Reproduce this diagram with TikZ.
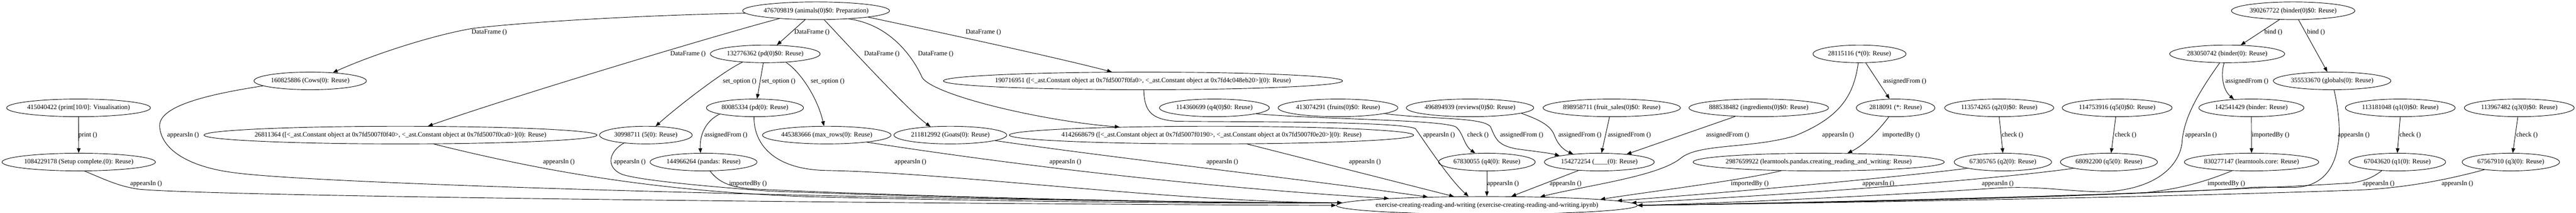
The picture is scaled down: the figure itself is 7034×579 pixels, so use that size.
\documentclass[tikz,border=0pt]{standalone}
\usepackage{fontspec}
\setmainfont{Liberation Serif}
\usetikzlibrary{shapes.geometric,arrows.meta}
\begin{document}
\begin{tikzpicture}[x=1pt,y=-1pt,
  nd/.style={ellipse, draw, line width=1.3pt, inner sep=0pt, minimum height=48pt, font=\fontsize{18}{18}\selectfont},
  lb/.style={inner sep=0pt, font=\fontsize{18}{18}\selectfont},
  e/.style={line width=1.3pt, -{Triangle[length=13pt,width=10pt]}}]
\useasboundingbox (0,0) rectangle (7034,579);
% ---------- nodes ----------
\node[nd, minimum width=401pt] (root) at (2228.5,29.3) {\makebox[0pt]{476709819 (animals(0)\$0: Preparation)}};
\node[nd, minimum width=337pt] (n390) at (6261.5,29.3) {\makebox[0pt]{390267722 (binder(0)\$0: Reuse)}};
\node[nd, minimum width=300pt] (n132) at (2089.5,146.7) {\makebox[0pt]{132776362 (pd(0)\$0: Reuse)}};
\node[nd, minimum width=254pt] (n281) at (5077.5,146.7) {\makebox[0pt]{28115116 (*(0): Reuse)}};
\node[nd, minimum width=314pt] (n283) at (6081.5,146.7) {\makebox[0pt]{283050742 (binder(0): Reuse)}};
\node[nd, minimum width=307pt] (n160) at (847,220.1) {\makebox[0pt]{160825886 (Cows(0): Reuse)}};
\node[nd, minimum width=1090pt] (n190) at (3121,220.1) {\makebox[0pt]{190716951 ([<\_ast.Constant object at 0x7fd5007f0fa0>, <\_ast.Constant object at 0x7fd4c048eb20>](0): Reuse)}};
\node[nd, minimum width=321pt] (n355) at (6368,220.1) {\makebox[0pt]{355533670 (globals(0): Reuse)}};
\node[nd, minimum width=393pt] (n415) at (214.5,293.5) {\makebox[0pt]{415040422 (print[10/0]: Visualisation)}};
\node[nd, minimum width=265pt] (n800) at (2061.5,293.5) {\makebox[0pt]{80085334 (pd(0): Reuse)}};
\node[nd, minimum width=300pt] (nq4s) at (3316,293.5) {\makebox[0pt]{114360699 (q4(0)\$0: Reuse)}};
\node[nd, minimum width=327pt] (n413) at (3653.5,293.5) {\makebox[0pt]{413074291 (fruits(0)\$0: Reuse)}};
\node[nd, minimum width=348pt] (n496) at (4014,293.5) {\makebox[0pt]{496894939 (reviews(0)\$0: Reuse)}};
\node[nd, minimum width=375pt] (n898) at (4401,293.5) {\makebox[0pt]{898958711 (fruit\_sales(0)\$0: Reuse)}};
\node[nd, minimum width=381pt] (n888) at (4802.4,293.5) {\makebox[0pt]{888538482 (ingredients(0)\$0: Reuse)}};
\node[nd, minimum width=215pt] (n2818) at (5176,293.5) {\makebox[0pt]{2818091 (*: Reuse)}};
\node[nd, minimum width=298pt] (nq2s) at (5459,293.5) {\makebox[0pt]{113574265 (q2(0)\$0: Reuse)}};
\node[nd, minimum width=300pt] (nq5s) at (5781,293.5) {\makebox[0pt]{114753916 (q5(0)\$0: Reuse)}};
\node[nd, minimum width=287pt] (n142) at (6147.5,293.5) {\makebox[0pt]{142541429 (binder: Reuse)}};
\node[nd, minimum width=300pt] (nq1s) at (6554,293.5) {\makebox[0pt]{113181048 (q1(0)\$0: Reuse)}};
\node[nd, minimum width=300pt] (nq3s) at (6879,293.5) {\makebox[0pt]{113967482 (q3(0)\$0: Reuse)}};
\node[nd, minimum width=1073pt] (n268) at (1093.5,367.6) {\makebox[0pt]{26811364 ([<\_ast.Constant object at 0x7fd5007f0f40>, <\_ast.Constant object at 0x7fd5007f0ca0>](0): Reuse)}};
\node[nd, minimum width=253pt] (n309) at (1763.5,367.6) {\makebox[0pt]{30998711 (5(0): Reuse)}};
\node[nd, minimum width=351pt] (n445) at (2257.5,367.6) {\makebox[0pt]{445383666 (max\_rows(0): Reuse)}};
\node[nd, minimum width=308pt] (n211) at (2595,367.6) {\makebox[0pt]{211812992 (Goats(0): Reuse)}};
\node[nd, minimum width=1104pt] (n414) at (3308,367.6) {\makebox[0pt]{4142668679 ([<\_ast.Constant object at 0x7fd5007f0190>, <\_ast.Constant object at 0x7fd5007f0e20>](0): Reuse)}};
\node[nd, minimum width=419pt] (n108) at (215,441) {\makebox[0pt]{1084229178 (Setup complete.(0): Reuse)}};
\node[nd, minimum width=292pt] (n144) at (1921,441) {\makebox[0pt]{144966264 (pandas: Reuse)}};
\node[nd, minimum width=264pt] (nq4) at (4060,441) {\makebox[0pt]{67830055 (q4(0): Reuse)}};
\node[nd, minimum width=300pt] (n154) at (4367,441) {\makebox[0pt]{154272254 (\_\_\_\_(0): Reuse)}};
\node[nd, minimum width=686pt] (n2987) at (4966,441) {\makebox[0pt]{2987659922 (learntools.pandas.creating\_reading\_and\_writing: Reuse)}};
\node[nd, minimum width=266pt] (nq2) at (5469,441) {\makebox[0pt]{67305765 (q2(0): Reuse)}};
\node[nd, minimum width=265pt] (nq5) at (5758.5,441) {\makebox[0pt]{68092200 (q5(0): Reuse)}};
\node[nd, minimum width=367pt] (n830) at (6148,441) {\makebox[0pt]{830277147 (learntools.core: Reuse)}};
\node[nd, minimum width=264pt] (nq1) at (6546,441) {\makebox[0pt]{67043620 (q1(0): Reuse)}};
\node[nd, minimum width=266pt] (nq3) at (6856,441) {\makebox[0pt]{67567910 (q3(0): Reuse)}};
\node[nd, minimum width=822pt] (sink) at (4060,558.8) {\makebox[0pt]{exercise-creating-reading-and-writing (exercise-creating-reading-and-writing.ipynb)}};
% ---------- edge labels ----------
\node[lb] (lp) at (240,367.6) {print ()};
\node[lb] (l1) at (399,500.4) {appearsIn ()};
\node[lb] (l2) at (500,367.6) {appearsIn ()};
\node[lb] (l3) at (1336,88.4) {DataFrame ()};
\node[lb] (l4) at (1878.6,146.7) {DataFrame ()};
\node[lb] (l5) at (2217,88.4) {DataFrame ()};
\node[lb] (l6) at (2408,146.7) {DataFrame ()};
\node[lb] (l7) at (2555,146.7) {DataFrame ()};
\node[lb] (l8) at (2685,88.4) {DataFrame ()};
\node[lb] (l9) at (2019.5,220.9) {set\_option ()};
\node[lb] (l10) at (2126,220.9) {set\_option ()};
\node[lb] (l11) at (2260,220.9) {set\_option ()};
\node[lb] (l12) at (1982,367.6) {assignedFrom ()};
\node[lb] (l13) at (2042.5,500.4) {importedBy ()};
\node[lb] (l14) at (1526,441) {appearsIn ()};
\node[lb] (l15) at (1719.6,441) {appearsIn ()};
\node[lb] (l16) at (2486,441) {appearsIn ()};
\node[lb] (l17) at (2909,441) {appearsIn ()};
\node[lb] (l18) at (3337.6,441) {appearsIn ()};
\node[lb] (l19) at (3727,441) {appearsIn ()};
\node[lb] (l20) at (3929.5,367.6) {appearsIn ()};
\node[lb] (l21) at (4035.6,367.6) {check ()};
\node[lb] (l22) at (4155,367.6) {assignedFrom ()};
\node[lb] (l23) at (4104,500.4) {appearsIn ()};
\node[lb] (l24) at (4314,367.6) {assignedFrom ()};
\node[lb] (l25) at (4449,367.6) {assignedFrom ()};
\node[lb] (l26) at (4717.5,367.6) {assignedFrom ()};
\node[lb] (l27) at (4275,500.4) {appearsIn ()};
\node[lb] (l28) at (4778,500.4) {importedBy ()};
\node[lb] (l29) at (5019,367.6) {appearsIn ()};
\node[lb] (l30) at (5191,367.6) {importedBy ()};
\node[lb] (l31) at (5201,220.9) {assignedFrom ()};
\node[lb] (l32) at (5129,500.4) {appearsIn ()};
\node[lb] (l33) at (5455,500.4) {appearsIn ()};
\node[lb] (l34) at (5495,367.6) {check ()};
\node[lb] (l35) at (5804,367.6) {check ()};
\node[lb] (l36) at (6207.5,88.4) {bind ()};
\node[lb] (l37) at (6324,88.4) {bind ()};
\node[lb] (l38) at (6135,220.9) {assignedFrom ()};
\node[lb] (l39) at (6010,367.6) {appearsIn ()};
\node[lb] (l40) at (6200,367.6) {importedBy ()};
\node[lb] (l41) at (6427,367.6) {appearsIn ()};
\node[lb] (l42) at (6079,500.4) {importedBy ()};
\node[lb] (l43) at (6495,500.4) {appearsIn ()};
\node[lb] (l44) at (6710,500.4) {appearsIn ()};
\node[lb] (l45) at (6581,367.6) {check ()};
\node[lb] (l46) at (6900,367.6) {check ()};
% ---------- edges ----------
\draw[e] (n415.south) -- (n108.north);
\draw[e] (n108.-57) .. controls (295,492) and (325,507) .. (380,515) .. controls (600,535) and (2500,555) .. (sink.180);
\draw[e] (root.182) .. controls (1800,40) and (1450,58) .. (1293,77) .. controls (1193,93) and (1026,145) .. (n160.20);
\draw[e] (root.-168.2) .. controls (1979,89) and (1400,262) .. (n268.18.2);
\draw[e] (root.-141.2) -- (n132.37.6);
\draw[e] (root.-48) .. controls (2310,117) and (2480,301) .. (n211.157.6);
\draw[e] (root.-14.6) .. controls (2440,68) and (2500,170) .. (2518,211) .. controls (2550,260) and (2850,330) .. (n414.175);
\draw[e] (root.-7.8) .. controls (2600,95) and (2900,160) .. (n190.164.3);
\draw[e] (n132.-160.4) .. controls (1980,190) and (1850,290) .. (n309.42.7);
\draw[e] (n132.-102.9) -- (n800.77.1);
\draw[e] (n132.-22.3) .. controls (2185,195) and (2232,265) .. (n445.107.4);
\draw[e] (n800.-170.6) .. controls (1925,330) and (1910,370) .. (n144.108.4);
\draw[e] (n800.-96) .. controls (2058,390) and (2110,462) .. (2260,464) .. controls (2600,470) and (3200,550) .. (sink.179.2);
\draw[e] (n144.-54.5) .. controls (1960,492) and (1985,508) .. (2050,514) .. controls (2500,535) and (3200,552) .. (sink.179);
\draw[e] (n160.-174.9) .. controls (560,258) and (430,290) .. (436,346) .. controls (442,410) and (520,455) .. (640,470) .. controls (900,505) and (2600,548) .. (sink.179.8);
\draw[e] (n268.-15.3) .. controls (1500,470) and (1800,520) .. (2200,535) .. controls (2800,550) and (3400,555) .. (sink.179.6);
\draw[e] (n309.-160) .. controls (1665,410) and (1650,455) .. (1700,475) .. controls (1750,490) and (1900,505) .. (2100,520) .. controls (2800,545) and (3300,553) .. (sink.179.4);
\draw[e] (n445.-10.8) .. controls (2860,463) and (3366,515) .. (sink.176.7);
\draw[e] (n211.-7.9) .. controls (3010,426) and (3586,491) .. (sink.172.9);
\draw[e] (n414.-14.4) -- (sink.165.6);
\draw[e] (n190.-85) .. controls (3125,300) and (3140,325) .. (3213,330) .. controls (3400,332) and (3820,330) .. (3865,350) .. controls (3900,400) and (3960,490) .. (sink.154.5);
\draw[e] (nq4s.-8.8) .. controls (3600,325) and (3930,325) .. (3975,345) .. controls (3995,360) and (3997,395) .. (nq4.143);
\draw[e] (n413.-7.8) .. controls (3900,325) and (4050,318) .. (4070,345) .. controls (4085,380) and (4090,395) .. (4140,405) .. controls (4190,412) and (4230,416) .. (n154.171.4);
\draw[e] (n496.-6.9) .. controls (4200,325) and (4235,340) .. (4245,370) .. controls (4255,395) and (4270,408) .. (n154.163.5);
\draw[e] (n898.-104) -- (n154.76.6);
\draw[e] (n888.-160.4) -- (n154.16.4);
\draw[e] (n154.-158.5) -- (sink.20.6);
\draw[e] (nq4.south) -- (sink.north);
\draw[e] (n281.-98) .. controls (5062,260) and (5025,320) .. (4900,370) .. controls (4780,405) and (4640,390) .. (4590,430) .. controls (4530,480) and (4330,505) .. (sink.9.5);
\draw[e] (n281.-55.3) -- (n2818.124);
\draw[e] (n2818.-127.2) .. controls (5130,355) and (5090,395) .. (n2987.17.5);
\draw[e] (n2987.-167.2) .. controls (4760,490) and (4500,522) .. (sink.3.9);
\draw[e] (nq2s.south) -- (nq2.north);
\draw[e] (nq5s.-99) -- (nq5.76);
\draw[e] (nq1s.south) -- (nq1.north);
\draw[e] (nq3s.-99.5) -- (nq3.78);
\draw[e] (nq2.-170) .. controls (5200,480) and (4750,522) .. (sink.2.6);
\draw[e] (nq5.-170) .. controls (5450,488) and (4900,530) .. (sink.1.6);
\draw[e] (n283.-130) .. controls (5990,270) and (5962,330) .. (5958,390) .. controls (5950,450) and (5890,515) .. (5745,522) .. controls (5640,521) and (5570,505) .. (5450,512) .. controls (5100,535) and (4700,553) .. (sink.0);
\draw[e] (n355.-78) .. controls (6386,300) and (6392,360) .. (6383,400) .. controls (6372,470) and (6330,510) .. (6260,510) .. controls (6200,510) and (6180,508) .. (6144,510) .. controls (5950,530) and (4750,555) .. (sink.0.2);
\draw[e] (n830.-156.3) .. controls (6020,495) and (5950,515) .. (5850,525) .. controls (5400,545) and (4750,555) .. (sink.0.4);
\draw[e] (nq1.-151.6) .. controls (6480,482) and (6460,492) .. (6420,498) .. controls (5800,535) and (4800,555) .. (sink.0.6);
\draw[e] (nq3.-164.2) .. controls (6660,495) and (6550,512) .. (6444,517) .. controls (5800,540) and (4800,555) .. (sink.0.8);
\draw[e] (n142.south) -- (n830.north);
\draw[e] (n283.-109.5) .. controls (6063,205) and (6070,245) .. (n142.154);
\draw[e] (n390.-147) -- (n283.33);
\draw[e] (n390.-59.5) -- (n355.118.5);
\end{tikzpicture}
\end{document}
